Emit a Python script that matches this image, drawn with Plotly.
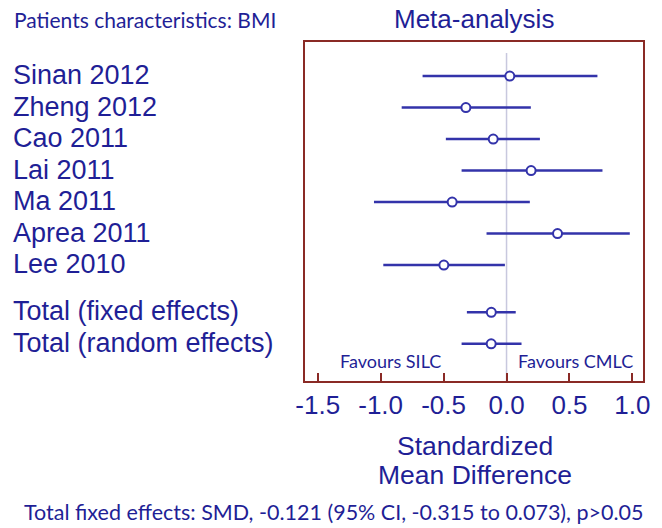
import plotly.graph_objects as go

studies = ["Sinan 2012", "Zheng 2012", "Cao 2011", "Lai 2011", "Ma 2011",
           "Aprea 2011", "Lee 2010", "Total (fixed effects)", "Total (random effects)"]
rows = [0, 1, 2, 3, 4, 5, 6, 7.5, 8.5]
smd = [0.026, -0.323, -0.106, 0.195, -0.432, 0.405, -0.498, -0.121, -0.122]
ci_low = [-0.667, -0.833, -0.482, -0.357, -1.053, -0.159, -0.979, -0.315, -0.357]
ci_high = [0.722, 0.193, 0.265, 0.762, 0.185, 0.979, -0.013, 0.073, 0.119]
tick_vals = [-1.5, -1.0, -0.5, 0.0, 0.5, 1.0]
tick_text = ["-1.5", "-1.0", "-0.5", "0.0", "0.5", "1.0"]

NAVY = "#1f1f96"
LINE = "#3333aa"
RED = "#8a2a25"
MAIN = "Arial"
HUM = "Lato"

W, H = 662, 528
L, R, T, B = 305, 643, 42, 381

def px(x):
    return (x - L) / (R - L)

def py(y):
    return (B - y) / (B - T)

fig = go.Figure()
fig.add_trace(go.Scatter(
    x=smd, y=rows, mode="markers",
    error_x=dict(type="data", symmetric=False,
                 array=[h - m for h, m in zip(ci_high, smd)],
                 arrayminus=[m - l for m, l in zip(smd, ci_low)],
                 color=LINE, thickness=2.5, width=0),
    marker=dict(symbol="circle", size=9, color="white",
                line=dict(color=LINE, width=2)),
    hoverinfo="skip", showlegend=False,
))

fig.add_shape(type="line", xref="x", yref="y", x0=0, x1=0, y0=-0.73, y1=9.68,
              line=dict(color="#c8c8de", width=1.5), layer="below")

for s, r in zip(studies, rows):
    fig.add_annotation(text=s, xref="paper", yref="y", x=px(11), y=r,
                       xanchor="left", yanchor="middle", showarrow=False,
                       yshift=1,
                       font=dict(family=MAIN, size=27, color=NAVY))

annos = [
    ("Patients characteristics: BMI", px(12), py(19), "left", 21, HUM),
    ("Meta-analysis", px(474), py(19), "center", 26, MAIN),
    ("Favours SILC", px(390), py(361), "center", 18, HUM),
    ("Favours CMLC", px(575), py(361), "center", 18, HUM),
    ("Standardized", px(475), py(446), "center", 26.5, MAIN),
    ("Mean Difference", px(475), py(475.5), "center", 26.5, MAIN),
    ("Total fixed effects: SMD, -0.121 (95% CI, -0.315 to 0.073), p>0.05",
     px(333), py(512), "center", 21.5, HUM),
]
for t, x, y, xa, fs, fam in annos:
    fig.add_annotation(text=t, xref="paper", yref="paper", x=x, y=y,
                       xanchor=xa, yanchor="middle", showarrow=False,
                       font=dict(family=fam, size=fs, color=NAVY))

fig.update_layout(
    width=W, height=H,
    margin=dict(l=L, r=W - R, t=T, b=H - B, pad=0),
    paper_bgcolor="white", plot_bgcolor="white",
    font=dict(family=MAIN),
    xaxis=dict(range=[-1.601, 1.084], tickvals=tick_vals, ticktext=tick_text,
               ticks="inside", ticklen=8, tickwidth=2, tickcolor=RED,
               showline=True, linecolor=RED, linewidth=2, mirror=True,
               showgrid=False, zeroline=False,
               tickfont=dict(family=MAIN, size=26, color=NAVY)),
    yaxis=dict(range=[9.68, -1.08], showticklabels=False, ticks="",
               showline=True, linecolor=RED, linewidth=2, mirror=True,
               showgrid=False, zeroline=False),
)

fig.write_html("out.html")
